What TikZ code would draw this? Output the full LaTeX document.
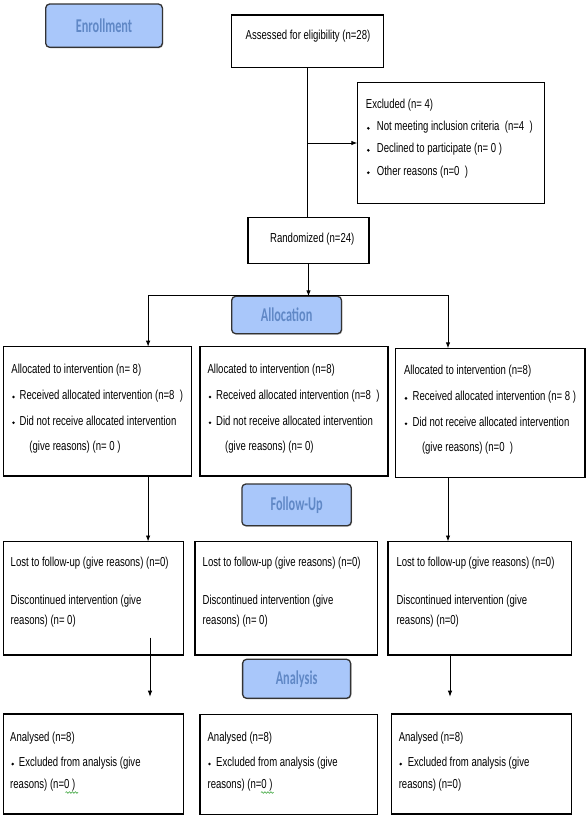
\documentclass[tikz,border=0pt]{standalone}
\usepackage{fontspec}
\setmainfont{Liberation Sans}[FakeStretch=0.735]
\newfontfamily\phasefont{Carlito}[FakeStretch=0.63,UprightFont=* Bold]
\usetikzlibrary{arrows.meta,decorations.pathmorphing,shadows}
\definecolor{phasefill}{HTML}{A9C7FA}
\definecolor{phasetext}{HTML}{6088C6}
\definecolor{phaseline}{HTML}{333333}
\definecolor{spellgreen}{HTML}{3AA53A}
\tikzset{
 box/.style={draw=black, line width=1.3pt, fill=white, inner sep=0pt, outer sep=0pt, rectangle, anchor=north west},
 phase/.style={draw=phaseline, line width=1.3pt, fill=phasefill, rounded corners=4pt, inner sep=0pt, outer sep=0pt, anchor=north west, drop shadow={shadow xshift=0.8pt, shadow yshift=-1pt, fill=black!45}},
 phasetxt/.style={text=phasetext, font=\phasefont\fontsize{19.5}{22}\selectfont},
 txt/.style={anchor=base west, inner sep=0pt, font=\fontsize{13}{15}\selectfont},
 bdot/.style={circle, fill=black, inner sep=0pt, minimum size=2.9pt},
 conn/.style={draw=black, line width=0.9pt},
 arr/.style={conn, -{Latex[length=6pt,width=4.5pt]}},
 squig/.style={draw=spellgreen, line width=0.6pt, decorate, decoration={snake, amplitude=0.8pt, segment length=3pt}}
}
\begin{document}
\begin{tikzpicture}[x=1pt,y=-1pt]
\useasboundingbox[fill=white] (0,0) rectangle (588,820);

% ---------- phase labels ----------
\node[phase, minimum width=116.7pt, minimum height=43.3pt] (enroll) at (45.7,4) {};
\node[phasetxt] (enrollT) at (enroll.center) {Enrollment};

% ---------- enrollment ----------
\node[box, minimum width=151.5pt, minimum height=52.7pt] (assess) at (231.7,15) {};
\node[txt, anchor=base] (assessT) at (308,39.1) {Assessed for eligibility (n=28)};

\node[box, minimum width=187pt, minimum height=120.6pt] (excl) at (357.3,82.7) {};
\node[txt] (exT0) at (365.7,108.4) {Excluded (n= 4)};
\node[bdot] (exD1) at (368.3,128.3) {};
\node[txt] (exT1) at (376.7,130.7) {Not meeting inclusion criteria\ \ (n=4\ \ )};
\node[bdot] (exD2) at (368.3,150.3) {};
\node[txt] (exT2) at (376.7,152.7) {Declined to participate (n= 0 )};
\node[bdot] (exD3) at (368.3,172.7) {};
\node[txt] (exT3) at (376.7,175.1) {Other reasons (n=0\ \ )};

\node[box, minimum width=121pt, minimum height=46pt] (rand) at (248,217.3) {};
\node[txt] (randT) at (270,242.7) {Randomized (n=24)};

\draw[conn] (assess.south) -- (assess.south |- rand.north);
\draw[arr] (excl.west -| assess.south) -- (excl.west);

% ---------- allocation ----------
\node[phase, minimum width=109.8pt, minimum height=37.4pt] (alloc) at (231.7,296.3) {};
\node[phasetxt] (allocT) at (alloc.center) {Allocation};

\coordinate (hl) at (148.1,295);
\coordinate (hr) at (448,295);
\draw[conn] (hl) -- (hr);
\draw[arr] (rand.south) -- (rand.south |- alloc.north);

\node[box, minimum width=187.5pt, minimum height=129.3pt] (b21) at (3.7,346.7) {};
\node[box, minimum width=188.1pt, minimum height=129.3pt] (b22) at (199.9,346.7) {};
\node[box, minimum width=189.4pt, minimum height=129pt] (b23) at (395.6,348.3) {};

\draw[arr] (hl) -- (hl |- b21.north);
\draw[arr] (hr) -- (hr |- b23.north);

\node[txt] (a1L1) at (11.2,373.4) {Allocated to intervention (n= 8)};
\node[bdot] (a1D1) at (13.5,397) {};
\node[txt] (a1L2) at (19.5,399.4) {Received allocated intervention (n=8\ \ )};
\node[bdot] (a1D2) at (13.5,422.7) {};
\node[txt] (a1L3) at (19.5,425.1) {Did not receive allocated intervention};
\node[txt] (a1L4) at (29.2,450.1) {(give reasons) (n= 0 )};

\node[txt] (a2L1) at (207.4,373.4) {Allocated to intervention (n=8)};
\node[bdot] (a2D1) at (210,397) {};
\node[txt] (a2L2) at (216,399.4) {Received allocated intervention (n=8\ \ )};
\node[bdot] (a2D2) at (210,422.7) {};
\node[txt] (a2L3) at (216,425.1) {Did not receive allocated intervention};
\node[txt] (a2L4) at (225,450.1) {(give reasons) (n= 0)};

\node[txt] (a3L1) at (403.8,374.1) {Allocated to intervention (n=8)};
\node[bdot] (a3D1) at (406,398.3) {};
\node[txt] (a3L2) at (412.5,400.7) {Received allocated intervention (n= 8 )};
\node[bdot] (a3D2) at (406,423.7) {};
\node[txt] (a3L3) at (412.5,426.1) {Did not receive allocated intervention};
\node[txt] (a3L4) at (421.8,451.7) {(give reasons) (n=0\ \ )};

% ---------- follow-up ----------
\node[phase, minimum width=109.4pt, minimum height=41.7pt] (follow) at (241.9,484) {};
\node[phasetxt] (followT) at (follow.center) {Follow-Up};

\node[box, minimum width=180pt, minimum height=113.5pt] (b31) at (3.7,541.5) {};
\node[box, minimum width=182.6pt, minimum height=113.5pt] (b32) at (195,541.5) {};
\node[box, minimum width=183.8pt, minimum height=113.5pt] (b33) at (388,541.5) {};

\draw[arr] (b21.south -| hl) -- (b31.north -| hl);
\draw[arr] (b23.south -| hr) -- (b33.north -| hr);

\node[txt] (f1L1) at (10.5,566.7) {Lost to follow-up (give reasons) (n=0)};
\node[txt] (f1L2) at (10.5,604.4) {Discontinued intervention (give};
\node[txt] (f1L3) at (10.5,624.4) {reasons) (n= 0)};
\node[txt] (f2L1) at (202.5,566.7) {Lost to follow-up (give reasons) (n=0)};
\node[txt] (f2L2) at (202.5,604.4) {Discontinued intervention (give};
\node[txt] (f2L3) at (202.5,624.4) {reasons) (n= 0)};
\node[txt] (f3L1) at (396.3,566.7) {Lost to follow-up (give reasons) (n=0)};
\node[txt] (f3L2) at (396.3,604.4) {Discontinued intervention (give};
\node[txt] (f3L3) at (396.3,624.4) {reasons) (n=0)};

% ---------- analysis ----------
\node[phase, minimum width=108pt, minimum height=39pt] (anal) at (242.6,659.3) {};
\node[phasetxt] (analT) at (anal.center) {Analysis};

\node[box, minimum width=180pt, minimum height=100pt] (b41) at (3.7,714) {};
\node[box, minimum width=177.7pt, minimum height=100pt] (b42) at (199.9,714.5) {};
\node[box, minimum width=180pt, minimum height=100pt] (b43) at (391.8,714) {};

\coordinate (a1s) at (150,637.7);
\coordinate (a1e) at (150,696.7);
\coordinate (a3e) at (450,696.7);
\draw[arr] (a1s) -- (a1e);
\draw[arr] (b33.south -| a3e) -- (a3e);

\node[txt] (n1L1) at (10,741.4) {Analysed (n=8)};
\node[bdot] (n1D1) at (12.7,764) {};
\node[txt] (n1L2) at (18.8,766.4) {Excluded from analysis (give};
\node[txt] (n1L3) at (10,788.9) {reasons) (n=0\ )};
\node[txt] (n2L1) at (207.4,741.4) {Analysed (n=8)};
\node[bdot] (n2D1) at (209.5,764) {};
\node[txt] (n2L2) at (216,766.4) {Excluded from analysis (give};
\node[txt] (n2L3) at (207.4,788.9) {reasons) (n=0\ )};
\node[txt] (n3L1) at (398.6,741.4) {Analysed (n=8)};
\node[bdot] (n3D1) at (400.7,764) {};
\node[txt] (n3L2) at (407.6,766.4) {Excluded from analysis (give};
\node[txt] (n3L3) at (398.6,788.9) {reasons) (n=0)};

\coordinate (sq1a) at (65.5,792.5);
\coordinate (sq1b) at (78,792.5);
\coordinate (sq2a) at (261,792.5);
\coordinate (sq2b) at (273.5,792.5);
\draw[squig] (sq1a) -- (sq1b);
\draw[squig] (sq2a) -- (sq2b);
\end{tikzpicture}
\end{document}
